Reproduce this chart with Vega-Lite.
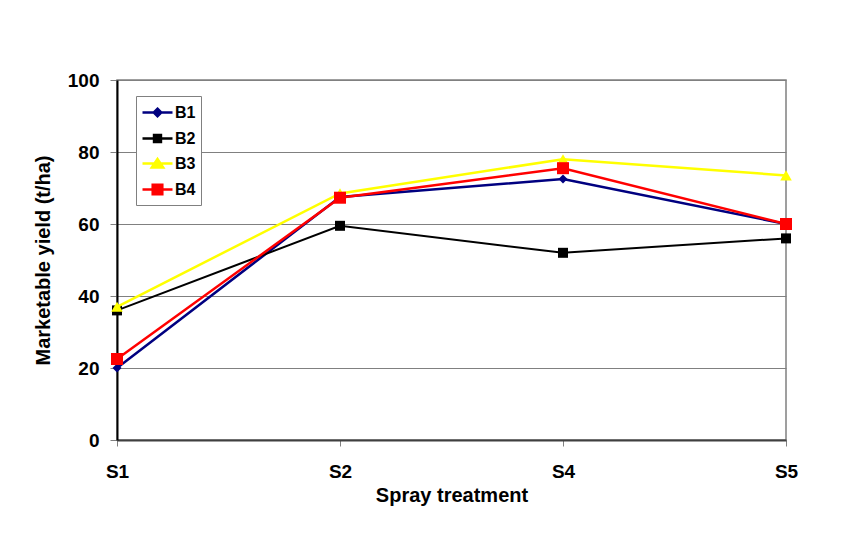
{
  "$schema": "https://vega.github.io/schema/vega-lite/v6.json",
  "width": 669,
  "height": 360,
  "autosize": {"type": "none"},
  "padding": {"left": 117, "top": 80, "right": 59, "bottom": 96},
  "background": "white",
  "data": {
    "values": [
      {"treatment": "S1", "block": "B1", "yield": 20},
      {"treatment": "S2", "block": "B1", "yield": 67.5},
      {"treatment": "S4", "block": "B1", "yield": 72.5},
      {"treatment": "S5", "block": "B1", "yield": 60},
      {"treatment": "S1", "block": "B2", "yield": 36},
      {"treatment": "S2", "block": "B2", "yield": 59.5},
      {"treatment": "S4", "block": "B2", "yield": 52},
      {"treatment": "S5", "block": "B2", "yield": 56},
      {"treatment": "S1", "block": "B3", "yield": 37},
      {"treatment": "S2", "block": "B3", "yield": 68.5},
      {"treatment": "S4", "block": "B3", "yield": 78},
      {"treatment": "S5", "block": "B3", "yield": 73.5},
      {"treatment": "S1", "block": "B4", "yield": 22.5},
      {"treatment": "S2", "block": "B4", "yield": 67.3},
      {"treatment": "S4", "block": "B4", "yield": 75.5},
      {"treatment": "S5", "block": "B4", "yield": 60}
    ]
  },
  "encoding": {
    "x": {
      "field": "treatment",
      "type": "ordinal",
      "scale": {"type": "point", "padding": 0},
      "axis": {
        "title": "Spray treatment",
        "labelAngle": 0,
        "tickSize": 6,
        "tickColor": "#808080",
        "domainColor": "#404040",
        "domainWidth": 2,
        "labelPadding": 16,
        "titlePadding": 4,
        "grid": false
      }
    },
    "y": {
      "field": "yield",
      "type": "quantitative",
      "scale": {"domain": [0, 100], "nice": false},
      "axis": {
        "title": "Marketable yield (t/ha)",
        "values": [0, 20, 40, 60, 80, 100],
        "tickSize": 7,
        "tickColor": "#808080",
        "domainColor": "#000000",
        "domainWidth": 2,
        "labelPadding": 11,
        "titlePadding": 14,
        "grid": true,
        "gridColor": "#808080",
        "gridWidth": 1
      }
    }
  },
  "layer": [
    {
      "transform": [{"filter": "datum.block === 'B1'"}],
      "mark": {
        "type": "line",
        "color": "#000080",
        "strokeWidth": 2.5,
        "point": {"shape": "diamond", "size": 80, "filled": true, "color": "#000080", "opacity": 1}
      }
    },
    {
      "transform": [{"filter": "datum.block === 'B2'"}],
      "mark": {
        "type": "line",
        "color": "#000000",
        "strokeWidth": 2,
        "point": {"shape": "square", "size": 100, "filled": true, "color": "#000000", "opacity": 1}
      }
    },
    {
      "transform": [{"filter": "datum.block === 'B3'"}],
      "mark": {
        "type": "line",
        "color": "#FFFF00",
        "strokeWidth": 2.5,
        "point": {"shape": "triangle-up", "size": 135, "filled": true, "color": "#FFFF00", "opacity": 1}
      }
    },
    {
      "transform": [{"filter": "datum.block === 'B4'"}],
      "mark": {
        "type": "line",
        "color": "#FF0000",
        "strokeWidth": 2.5,
        "point": {"shape": "square", "size": 144, "filled": true, "color": "#FF0000", "opacity": 1}
      }
    },
    {
      "transform": [{"filter": "false"}],
      "mark": {"type": "point", "filled": true, "opacity": 1},
      "encoding": {
        "color": {
          "field": "block",
          "type": "nominal",
          "scale": {"domain": ["B1", "B2", "B3", "B4"], "range": ["#000080", "#000000", "#FFFF00", "#FF0000"]},
          "legend": {"title": null}
        },
        "stroke": {
          "field": "block",
          "type": "nominal",
          "scale": {"domain": ["B1", "B2", "B3", "B4"], "range": ["#000080", "#000000", "#FFFF00", "#FF0000"]},
          "legend": {"title": null}
        },
        "shape": {
          "field": "block",
          "type": "nominal",
          "scale": {
            "domain": ["B1", "B2", "B3", "B4"],
            "range": [
              "M-1.5,0H1.5M0,-0.375L0.375,0L0,0.375L-0.375,0Z",
              "M-1.5,0H1.5M-0.345,-0.345H0.345V0.345H-0.345Z",
              "M-1.5,0H1.5M-0.57,0.405L0,-0.45L0.57,0.405Z",
              "M-1.5,0H1.5M-0.48,-0.48H0.48V0.48H-0.48Z"
            ]
          },
          "legend": {"title": null}
        }
      }
    }
  ],
  "config": {
    "font": "Liberation Sans",
    "view": {"stroke": "#808080", "strokeWidth": 1.5},
    "axis": {
      "labelFont": "Liberation Sans",
      "labelFontSize": 19,
      "labelFontWeight": "bold",
      "labelColor": "#000000",
      "titleFont": "Liberation Sans",
      "titleFontSize": 20,
      "titleFontWeight": "bold",
      "titleColor": "#000000"
    },
    "legend": {
      "orient": "none",
      "legendX": 19,
      "legendY": 16,
      "padding": 5,
      "fillColor": "#FFFFFF",
      "strokeColor": "#808080",
      "strokeWidth": 1,
      "cornerRadius": 0,
      "symbolSize": 400,
      "symbolOffset": 5,
      "symbolStrokeWidth": 2.5,
      "symbolOpacity": 1,
      "labelFont": "Liberation Sans",
      "labelFontSize": 16,
      "labelFontWeight": "bold",
      "labelColor": "#000000",
      "labelOffset": 6,
      "rowPadding": 5
    }
  }
}
